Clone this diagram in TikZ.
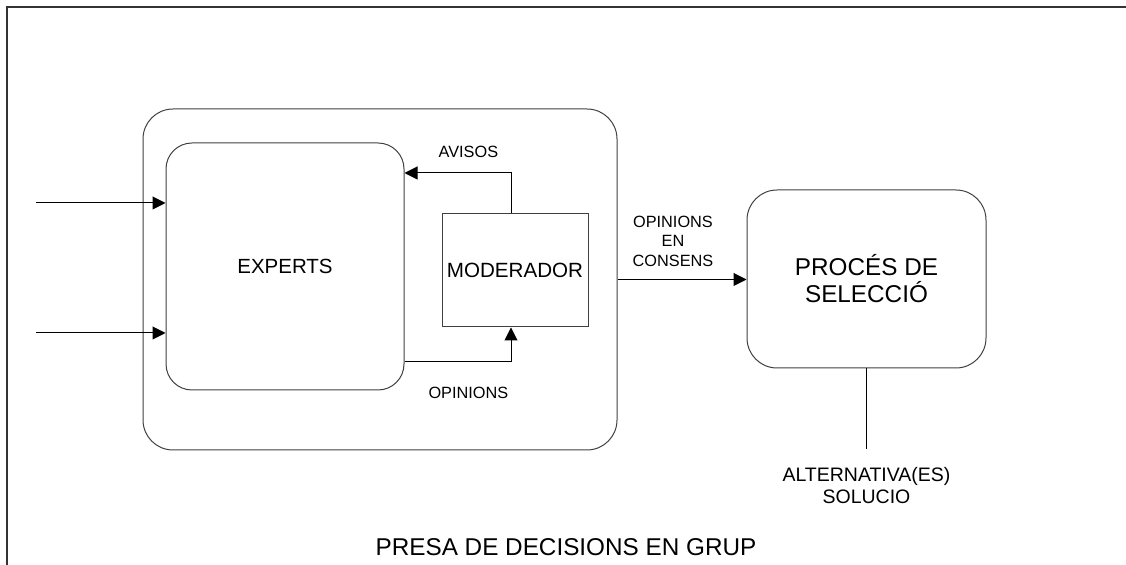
\documentclass[tikz,border=0pt]{standalone}
\usepackage{fontspec}
\setmainfont{Liberation Sans}
\usetikzlibrary{positioning,arrows.meta}

\begin{document}
\begin{tikzpicture}[x=0.5pt,y=-0.5pt,
    rbox/.style={draw=black!75,line width=0.5pt,rounded corners=#1},
    rbox/.default=14pt,
    sqbox/.style={draw=black!75,line width=0.5pt,inner sep=2pt},
    arr/.style={-{Triangle[length=6.5pt,width=6.5pt]},line width=0.5pt},
    lbl/.style={font=\fontsize{8.15}{9.85}\selectfont,align=center}]
    \useasboundingbox (0,0) rectangle (1126,565);
    \draw[line width=1pt,black!80] (7,565) -- (7,7) -- (1126,7);
    \node (grup) [rbox=15pt,minimum width=237pt,minimum height=170.5pt] at (380,279.5) {};
    \node (experts) [rbox=13pt,minimum width=119pt,minimum height=123.5pt,font=\fontsize{10.25}{12}\selectfont] at (285,266.5) {EXPERTS};
    \node (moderador) [sqbox,minimum width=73pt,minimum height=56.5pt,font=\fontsize{10.3}{12}\selectfont] at (515,270.5) {MODERADOR};
    \node (proces) [rbox=15pt,minimum width=119.5pt,minimum height=89pt,align=center,font=\fontsize{12.15}{13.5}\selectfont] at (866.5,279) {PROCÉS DE\\SELECCIÓ};
    \node (alt) [below=49pt of proces,inner ysep=0pt,align=center,font=\fontsize{9.75}{11}\selectfont] {ALTERNATIVA(ES)\\SOLUCIO};
    \node (titol) [font=\fontsize{12.15}{14}\selectfont] at (566,547) {PRESA DE DECISIONS EN GRUP};
    \coordinate (in1) at (36,203);
    \coordinate (in2) at (36,333);
    \draw[arr] (in1) -- (in1 -| experts.west);
    \draw[arr] (in2) -- (in2 -| experts.west);
    \draw[arr] ([xshift=-2pt]moderador.north) |- node [lbl,pos=0.7,above=4pt] {AVISOS} ([yshift=46.75pt]experts.east);
    \draw[arr] ([yshift=-47.75pt]experts.east) -| node [lbl,pos=0.3,below=8.9pt] {OPINIONS} ([xshift=-2pt]moderador.south);
    \draw[arr] (grup.east) -- node [lbl,pos=0.43,above=2.8pt] {OPINIONS\\EN\\CONSENS} (grup.east -| proces.west);
    \draw (proces) -- ([yshift=8.5pt]alt.north);
\end{tikzpicture}
\end{document}
